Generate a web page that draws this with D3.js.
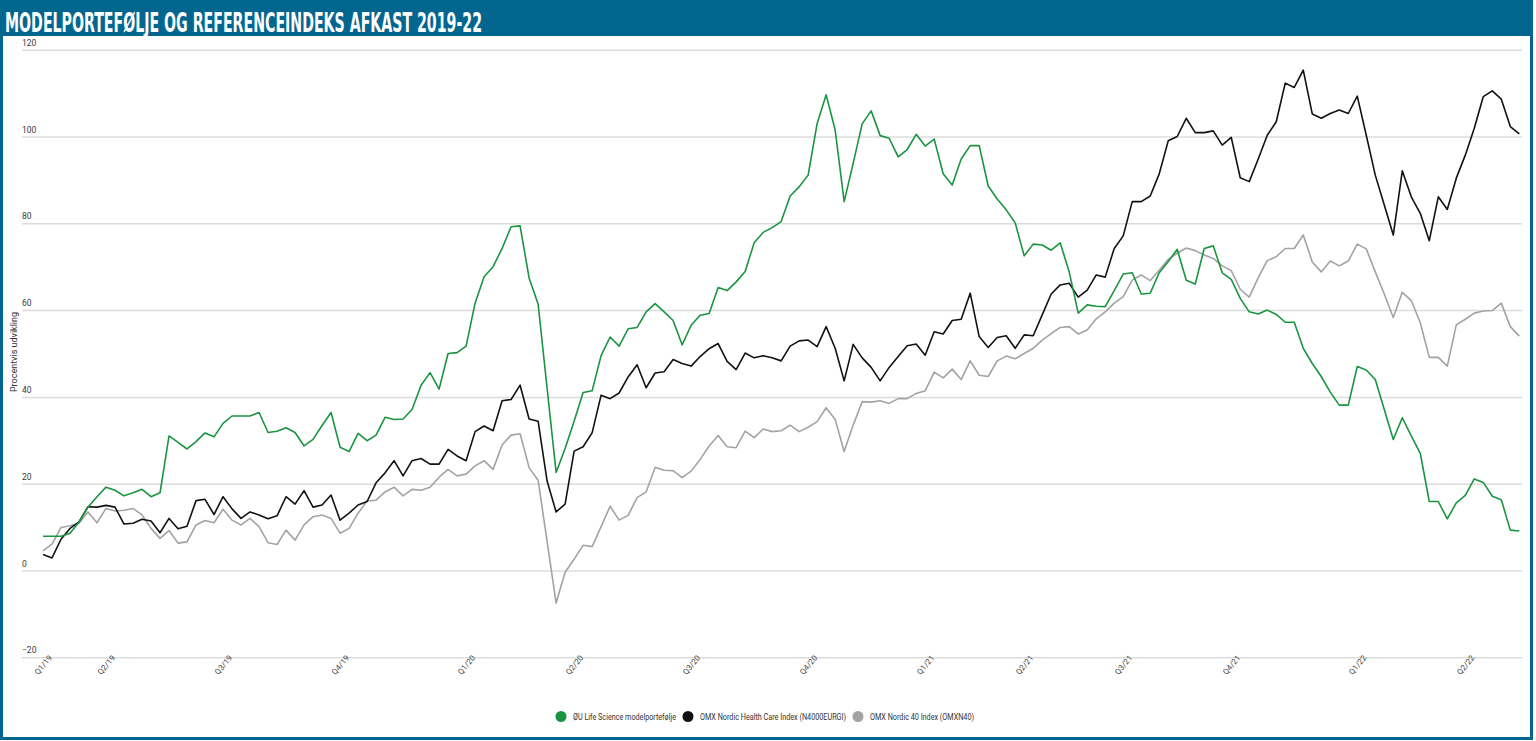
<!DOCTYPE html>
<html>
<head>
<meta charset="utf-8">
<script src="https://cdn.jsdelivr.net/npm/d3@7"></script>
<style>
  html, body { margin: 0; padding: 0; background: #fff; }
  svg { display: block; }
</style>
</head>
<body>
<svg id="chart" width="1536" height="741"></svg>
<script>
// ---- data ----
const seriesNames = ["ØU Life Science modelportefølje", "OMX Nordic Health Care Index (N4000EURGI)", "OMX Nordic 40 Index (OMXN40)"];
const seriesColors = ["#1a9440", "#111111", "#a3a3a3"];

const tickIndex = [0, 7, 20, 33, 47, 59, 72, 85, 98, 109, 120, 132, 146, 158];
const tickLabels = ["Q1/19", "Q2/19", "Q3/19", "Q4/19", "Q1/20", "Q2/20", "Q3/20", "Q4/20", "Q1/21", "Q2/21", "Q3/21", "Q4/21", "Q1/22", "Q2/22"];
const yTicks = [-20, 0, 20, 40, 60, 80, 100, 120];

const modelPortfolio = [
  7.9, 7.9, 7.9, 8.6, 11.2, 14.6, 17.0, 19.2, 18.5, 17.2,
  17.9, 18.7, 17.0, 17.9, 31.0, 29.5, 28.0, 29.7, 31.7, 30.8,
  33.9, 35.6, 35.6, 35.6, 36.4, 31.8, 32.1, 32.9, 31.8, 28.7,
  30.2, 33.4, 36.4, 28.4, 27.4, 31.6, 29.9, 31.2, 35.3, 34.8,
  34.9, 37.1, 42.7, 45.6, 41.8, 50.0, 50.2, 51.7, 61.6, 67.7,
  70.0, 74.2, 79.2, 79.4, 67.4, 61.4, 42.0, 22.6, 28.1, 34.4,
  41.0, 41.4, 49.5, 53.8, 51.7, 55.7, 56.0, 59.6, 61.5, 59.6,
  57.6, 52.0, 56.5, 58.8, 59.2, 65.2, 64.5, 66.5, 68.9, 75.5,
  77.9, 79.0, 80.4, 86.3, 88.4, 91.1, 103.0, 109.6, 101.5, 85.0,
  93.8, 102.9, 105.9, 100.2, 99.6, 95.3, 97.0, 100.5, 97.8, 99.4,
  91.4, 88.8, 94.8, 97.9, 97.9, 88.6, 85.6, 83.1, 80.1, 72.5,
  75.2, 75.0, 73.8, 75.5, 68.8, 59.3, 61.2, 60.9, 60.8, 64.5,
  68.3, 68.6, 63.7, 63.9, 68.6, 71.2, 74.0, 66.9, 66.0, 74.2,
  74.8, 68.6, 67.1, 62.7, 59.6, 59.1, 60.0, 59.0, 57.2, 57.2,
  51.2, 47.7, 44.7, 41.1, 38.1, 38.1, 47.0, 46.2, 44.0, 37.1,
  30.2, 35.2, 31.0, 27.0, 15.9, 15.9, 11.9, 15.6, 17.3, 21.1,
  20.3, 17.1, 16.3, 9.3, 9.1
];

const healthCareIndex = [
  3.7, 2.9, 7.2, 9.7, 11.2, 14.7, 14.6, 15.0, 14.6, 10.7,
  10.9, 11.8, 11.4, 8.7, 12.0, 9.6, 10.2, 16.1, 16.4, 12.9,
  17.0, 14.2, 12.0, 13.5, 12.8, 11.9, 12.6, 17.0, 15.3, 18.4,
  14.6, 15.1, 17.4, 11.6, 13.2, 15.1, 15.9, 20.2, 22.5, 25.3,
  21.8, 25.3, 25.8, 24.5, 24.5, 27.9, 26.4, 25.3, 32.0, 33.3,
  32.2, 39.1, 39.4, 42.7, 34.9, 34.4, 20.6, 13.5, 15.3, 27.5,
  28.5, 31.7, 40.4, 39.6, 40.9, 44.6, 47.4, 42.1, 45.5, 45.8,
  48.6, 47.7, 47.1, 49.3, 51.1, 52.3, 48.2, 46.3, 50.1, 49.0,
  49.5, 49.0, 48.3, 51.7, 52.9, 53.1, 51.6, 56.2, 51.2, 43.7,
  52.1, 49.0, 46.8, 43.7, 46.8, 49.3, 51.8, 52.2, 49.6, 55.0,
  54.5, 57.6, 57.9, 63.9, 53.9, 51.4, 53.7, 54.1, 51.2, 54.3,
  54.1, 58.9, 63.7, 65.8, 66.2, 63.0, 64.6, 68.1, 67.6, 74.2,
  77.1, 85.0, 85.0, 86.3, 91.4, 99.0, 100.0, 104.2, 100.9, 100.9,
  101.3, 98.0, 99.8, 90.5, 89.6, 94.8, 100.3, 103.4, 112.3, 111.3,
  115.3, 105.2, 104.2, 105.3, 106.1, 105.3, 109.3, 100.3, 91.1, 84.2,
  77.3, 92.1, 86.1, 82.3, 76.0, 86.1, 83.2, 90.4, 95.7, 101.9,
  109.2, 110.5, 108.6, 102.3, 100.6
];

const nordic40Index = [
  4.5, 6.1, 9.9, 10.3, 10.9, 13.5, 11.0, 14.3, 13.7, 13.9,
  14.3, 12.8, 9.7, 7.4, 9.2, 6.3, 6.6, 10.5, 11.5, 11.0,
  14.1, 11.6, 10.5, 12.0, 10.1, 6.4, 6.0, 9.3, 7.0, 10.5,
  12.4, 12.8, 12.0, 8.6, 9.7, 13.2, 16.0, 16.2, 18.1, 19.2,
  17.2, 18.7, 18.5, 19.2, 21.5, 23.3, 21.8, 22.2, 24.1, 25.3,
  23.3, 28.9, 31.2, 31.5, 23.7, 20.8, 6.7, -7.5, -0.4, 2.6,
  5.8, 5.5, 10.1, 14.8, 11.6, 12.7, 16.8, 18.1, 23.8, 23.1,
  23.0, 21.4, 22.9, 25.6, 28.7, 31.1, 28.5, 28.3, 32.1, 30.6,
  32.6, 32.0, 32.2, 33.5, 32.0, 33.0, 34.3, 37.5, 34.8, 27.4,
  33.5, 38.9, 38.8, 39.1, 38.5, 39.6, 39.6, 40.8, 41.4, 45.7,
  44.4, 46.4, 44.0, 48.3, 45.0, 44.7, 48.3, 49.4, 48.8, 50.0,
  51.2, 53.1, 54.6, 56.0, 56.2, 54.5, 55.4, 58.0, 59.6, 61.6,
  63.1, 66.9, 68.1, 66.8, 69.2, 71.7, 73.1, 74.3, 73.7, 72.7,
  71.9, 70.2, 69.1, 64.8, 63.0, 67.5, 71.4, 72.3, 74.2, 74.2,
  77.3, 71.1, 68.8, 71.3, 70.2, 71.3, 75.2, 74.1, 68.8, 63.7,
  58.3, 64.1, 62.2, 57.1, 49.1, 49.1, 47.1, 56.6, 57.9, 59.3,
  59.8, 59.9, 61.6, 56.2, 54.0
];

const titleText = "MODELPORTEFØLJE OG REFERENCEINDEKS AFKAST 2019-22";
const yAxisTitle = "Procentvis udvikling";

// ---- drawing ----
const svg = d3.select("#chart");
const blue = "#03668f";

// frame
svg.append("rect").attr("x", 1.5).attr("y", 1.5).attr("width", 1530).attr("height", 737)
  .attr("fill", "#fff").attr("stroke", blue).attr("stroke-width", 3);
svg.append("rect").attr("x", 0).attr("y", 0).attr("width", 1533).attr("height", 36).attr("fill", blue);
svg.append("text").attr("x", 5).attr("y", 31.5)
  .attr("fill", "#fff")
  .attr("font-family", "'Liberation Sans Narrow','DejaVu Sans Condensed','Roboto',sans-serif")
  .attr("font-weight", "bold")
  .attr("font-size", 26)
  .attr("textLength", 477).attr("lengthAdjust", "spacingAndGlyphs")
  .text(titleText);

const nPts = modelPortfolio.length;
const x = d3.scaleLinear().domain([0, nPts - 1]).range([43, 1519.3]);
const y = d3.scaleLinear().domain([-20, 120]).range([657.3, 49.7]);

// y grid + labels
const gY = svg.append("g").attr("transform", "translate(22,0)")
  .call(d3.axisRight(y).tickValues(yTicks).tickSize(1500).tickFormat(d3.format("d")));
gY.select(".domain").remove();
gY.selectAll(".tick line").attr("stroke", "#dcdcdc").attr("stroke-width", 1.5);
gY.selectAll(".tick text")
  .attr("x", 0).attr("dy", -4.5).attr("text-anchor", "start")
  .attr("fill", "#3a3a3a").attr("font-family", "Roboto, Arial, sans-serif").attr("font-size", 8.5);

// x axis labels
const gX = svg.append("g").attr("transform", "translate(0,665)")
  .call(d3.axisBottom(x).tickValues(tickIndex).tickFormat((d, i) => tickLabels[i]).tickSize(0));
gX.select(".domain").remove();
gX.selectAll(".tick text")
  .attr("y", 0).attr("dy", "0.32em")
  .attr("text-anchor", "middle")
  .attr("transform", "rotate(-50)")
  .attr("fill", "#444").attr("font-family", "Roboto, Arial, sans-serif").attr("font-size", 8);

// y axis title
svg.append("text")
  .attr("transform", "translate(17,352) rotate(-90)")
  .attr("text-anchor", "middle")
  .attr("fill", "#333").attr("font-family", "Roboto, Arial, sans-serif").attr("font-size", 9)
  .text(yAxisTitle);

// lines
const allSeries = [modelPortfolio, healthCareIndex, nordic40Index];
const line = d3.line().x((d, i) => x(i)).y(d => y(d));
[2, 1, 0].forEach(k => {
  svg.append("path").datum(allSeries[k])
    .attr("fill", "none").attr("stroke", seriesColors[k]).attr("stroke-width", 1.6)
    .attr("stroke-linejoin", "round")
    .attr("d", line);
});

// legend
const legendPos = [
  { cx: 561, tx: 573, w: 103 },
  { cx: 688, tx: 700, w: 146 },
  { cx: 858, tx: 870, w: 104 }
];
const lg = svg.append("g");
seriesNames.forEach((name, k) => {
  lg.append("circle").attr("cx", legendPos[k].cx).attr("cy", 716.5).attr("r", 5.5).attr("fill", seriesColors[k]);
  lg.append("text").attr("x", legendPos[k].tx).attr("y", 719.5)
    .attr("fill", "#333").attr("font-family", "Roboto, Arial, sans-serif").attr("font-size", 8.5)
    .attr("textLength", legendPos[k].w).attr("lengthAdjust", "spacingAndGlyphs")
    .text(name);
});
</script>
</body>
</html>
